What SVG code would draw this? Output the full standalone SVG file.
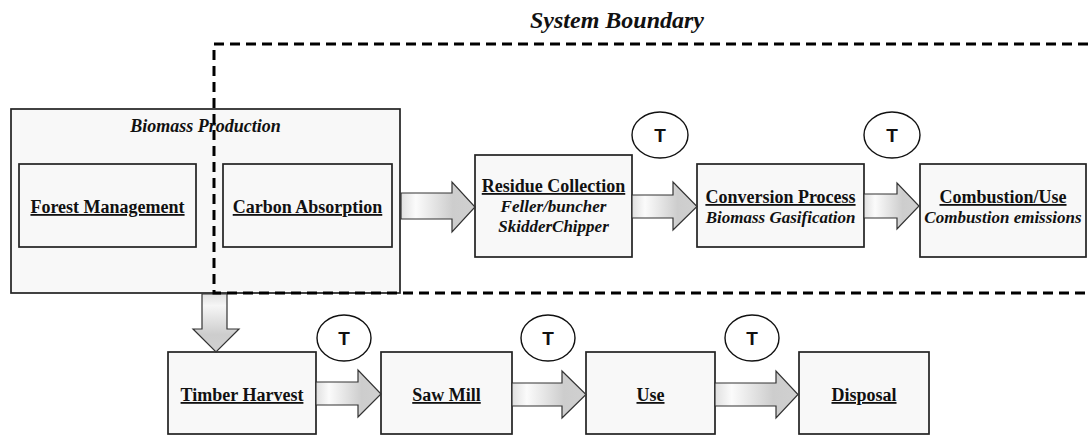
<svg xmlns="http://www.w3.org/2000/svg" width="1088" height="436" viewBox="0 0 1088 436">
  <defs>
    <linearGradient id="gh" x1="0" y1="0" x2="1" y2="0" gradientUnits="objectBoundingBox">
      <stop offset="0" stop-color="#e0e0e0"/>
      <stop offset="0.2" stop-color="#fbfbfb"/>
      <stop offset="0.7" stop-color="#cdcdcd"/>
      <stop offset="1" stop-color="#d0d0d0"/>
    </linearGradient>
    <linearGradient id="gv" x1="0" y1="0" x2="0" y2="1" gradientUnits="objectBoundingBox">
      <stop offset="0" stop-color="#e0e0e0"/>
      <stop offset="0.2" stop-color="#f6f6f6"/>
      <stop offset="0.7" stop-color="#cdcdcd"/>
      <stop offset="1" stop-color="#d0d0d0"/>
    </linearGradient>
  </defs>
  <style>
    .box { fill: #f8f8f8; stroke: #222; stroke-width: 1.7; }
    .arrow { stroke: #333; stroke-width: 1.2; stroke-linejoin: miter; }
    .t { font-family: "Liberation Serif", "Times New Roman", serif; fill: #111; text-anchor: middle; }
    .title { font-weight: bold; font-size: 18px; text-decoration: underline; }
    .sub { font-weight: bold; font-style: italic; font-size: 17px; }
    .lbl { font-weight: bold; font-style: italic; font-size: 18px; }
    .tc { fill: #fff; stroke: #111; stroke-width: 1.4; }
    .tt { font-family: "Liberation Sans", Arial, sans-serif; font-weight: bold; font-size: 19px; fill: #111; text-anchor: middle; }
    .bnd { fill: none; stroke: #000; stroke-width: 3; stroke-dasharray: 10 6; }
  </style>

  <text class="t" x="617" y="28" style="font-weight:bold;font-style:italic;font-size:24px">System Boundary</text>

  <g id="biomass-production">
    <rect class="box" x="11" y="109" width="389" height="184"/>
    <text class="t lbl" x="205.5" y="132">Biomass Production</text>
  </g>
  <g id="forest-management">
    <rect class="box" x="19" y="164" width="177" height="83"/>
    <text class="t title" x="107.5" y="213">Forest Management</text>
  </g>
  <g id="carbon-absorption">
    <rect class="box" x="223" y="164" width="169" height="83"/>
    <text class="t title" x="307.5" y="213">Carbon Absorption</text>
  </g>
  <g id="residue-collection">
    <rect class="box" x="475" y="155" width="157" height="102"/>
    <text class="t title" x="553.5" y="192">Residue Collection</text>
    <text class="t sub" x="553.5" y="212">Feller/buncher</text>
    <text class="t sub" x="553.5" y="232">SkidderChipper</text>
  </g>
  <g id="conversion-process">
    <rect class="box" x="697" y="164" width="167" height="83"/>
    <text class="t title" x="780.5" y="203">Conversion Process</text>
    <text class="t sub" x="780.5" y="223">Biomass Gasification</text>
  </g>
  <g id="combustion-use">
    <rect class="box" x="920" y="164" width="166" height="93"/>
    <text class="t title" x="1003" y="203">Combustion/Use</text>
    <text class="t sub" x="1003" y="223">Combustion emissions</text>
  </g>
  <g id="timber-harvest">
    <rect class="box" x="168" y="352" width="148" height="82"/>
    <text class="t title" x="242" y="401">Timber Harvest</text>
  </g>
  <g id="saw-mill">
    <rect class="box" x="381" y="352" width="131" height="82"/>
    <text class="t title" x="446.5" y="401">Saw Mill</text>
  </g>
  <g id="use">
    <rect class="box" x="586" y="352" width="129" height="82"/>
    <text class="t title" x="650.5" y="401">Use</text>
  </g>
  <g id="disposal">
    <rect class="box" x="799" y="352" width="130" height="82"/>
    <text class="t title" x="864" y="401">Disposal</text>
  </g>

  <g id="transport-1">
    <ellipse class="tc" cx="660" cy="135" rx="28" ry="23"/>
    <text class="tt" x="660" y="142">T</text>
  </g>
  <g id="transport-2">
    <ellipse class="tc" cx="892" cy="135" rx="28" ry="23"/>
    <text class="tt" x="892" y="142">T</text>
  </g>
  <g id="transport-3">
    <ellipse class="tc" cx="344" cy="338" rx="27" ry="23"/>
    <text class="tt" x="344" y="345">T</text>
  </g>
  <g id="transport-4">
    <ellipse class="tc" cx="548" cy="338" rx="27" ry="23"/>
    <text class="tt" x="548" y="345">T</text>
  </g>
  <g id="transport-5">
    <ellipse class="tc" cx="752" cy="338" rx="27" ry="23"/>
    <text class="tt" x="752" y="345">T</text>
  </g>

  <g id="connectors">
    <polygon class="arrow" fill="url(#gh)" points="401,193 452,193 452,182 475,207 452,232 452,219 401,219"/>
    <polygon class="arrow" fill="url(#gh)" points="632,195 673,195 673,182 697,206.5 673,230 673,218 632,218"/>
    <polygon class="arrow" fill="url(#gh)" points="864,194 897,194 897,183 919,206 897,229 897,218 864,218"/>
    <polygon class="arrow" fill="url(#gv)" points="202,294 227,294 227,329 239,329 216,352 193,329 202,329"/>
    <polygon class="arrow" fill="url(#gh)" points="316,382 358,382 358,370 381,394 358,417 358,405 316,405"/>
    <polygon class="arrow" fill="url(#gh)" points="512,383 562,383 562,371 586,394.5 562,418 562,406 512,406"/>
    <polygon class="arrow" fill="url(#gh)" points="715,383 776,383 776,371 798,394.5 776,418 776,406 715,406"/>
  </g>

  <g id="system-boundary">
    <path class="bnd" d="M1088,44 H214 V293 H1088"/>
  </g>
</svg>
